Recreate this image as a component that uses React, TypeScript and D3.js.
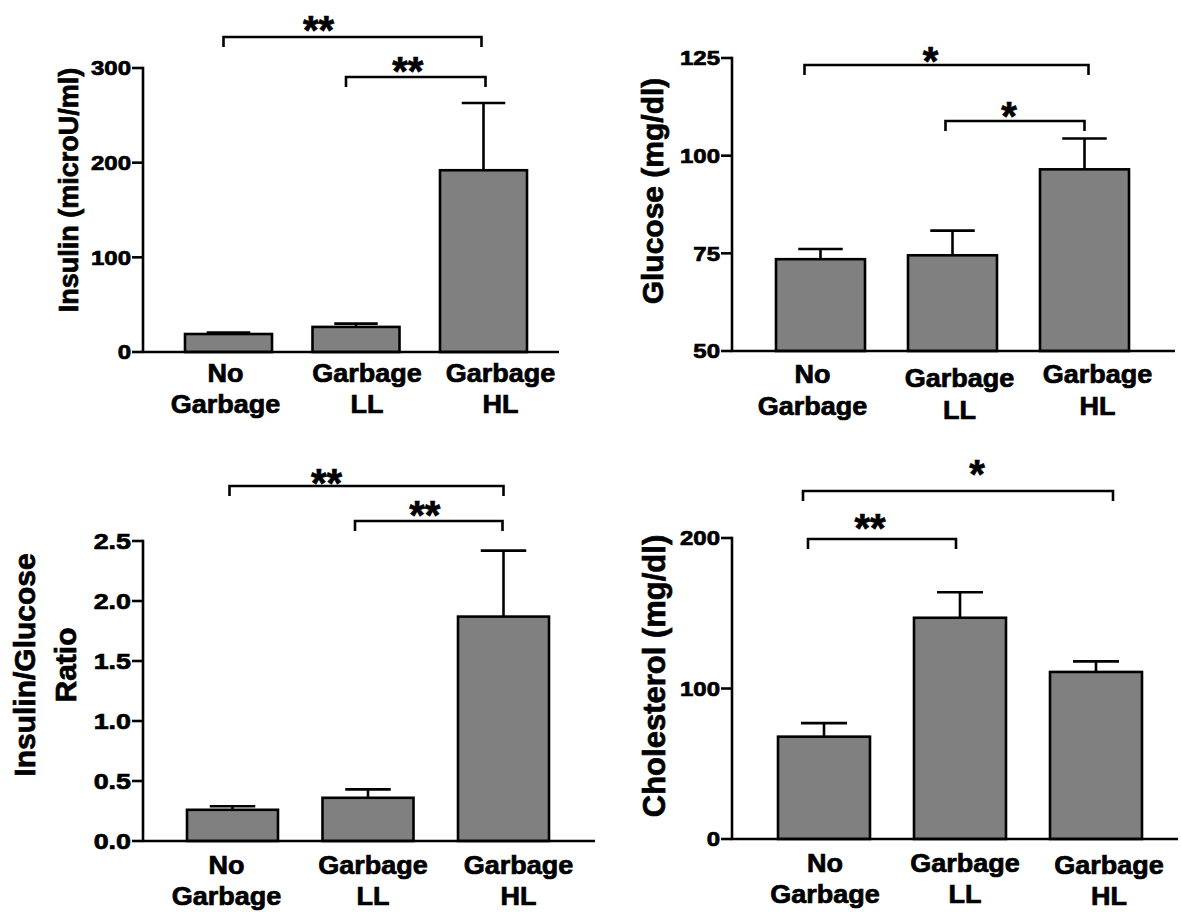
import React from "react";
import * as d3 from "d3";

// ---------- data ----------
const categoryLines: string[][] = [
  ["No", "Garbage"],
  ["Garbage", "LL"],
  ["Garbage", "HL"],
];

const insulinMean = [19, 26.5, 192];
const insulinSem = [1.5, 3.5, 71];
const insulinTicks = [0, 100, 200, 300];
const insulinSig = [
  { from: 0, to: 2, label: "**" },
  { from: 1, to: 2, label: "**" },
];

const glucoseMean = [73.5, 74.5, 96.5];
const glucoseSem = [2.6, 6.3, 7.9];
const glucoseTicks = [50, 75, 100, 125];
const glucoseSig = [
  { from: 0, to: 2, label: "*" },
  { from: 1, to: 2, label: "*" },
];

const ratioMean = [0.26, 0.36, 1.87];
const ratioSem = [0.03, 0.07, 0.55];
const ratioTicks = [0, 0.5, 1.0, 1.5, 2.0, 2.5];
const ratioSig = [
  { from: 0, to: 2, label: "**" },
  { from: 1, to: 2, label: "**" },
];

const cholMean = [68, 147, 111];
const cholSem = [9, 17, 7];
const cholTicks = [0, 100, 200];
const cholSig = [
  { from: 0, to: 2, label: "*" },
  { from: 0, to: 1, label: "**" },
];

// ---------- layout (pixels) ----------
const FONT = "'Liberation Sans', Arial, Helvetica, sans-serif";

type Panel = {
  mean: number[];
  sem: number[];
  ticks: number[];
  fmt: (v: number) => string;
  domain: [number, number];
  sig: { from: number; to: number; label: string }[];
  title: string[];
  axisX: number;
  xEnd: number;
  y0: number;
  yTop: number;
  barL: number;
  barR: number;
  barW: number;
  tickSize: number;
  tickSx: number;
  titleSize: number;
  titleX: number[];
  titleCy: number;
  labelDx: number[];
  labelDy: number[];
  labelBase: number[];
  brackets: { y: number; d1: number; d2: number; sdx: number; sy: number }[];
};

const panels: Panel[] = [
  {
    mean: insulinMean, sem: insulinSem, ticks: insulinTicks, fmt: d3.format("d"),
    domain: [0, 300], sig: insulinSig, title: ["Insulin (microU/ml)"],
    axisX: 143, xEnd: 559, y0: 352, yTop: 68, barL: 185, barR: 527, barW: 87,
    tickSize: 20, tickSx: 1.2, titleSize: 27, titleX: [78], titleCy: 190,
    labelDx: [-3, 11, 17], labelDy: [0, 0, 0], labelBase: [30, 61],
    brackets: [
      { y: 37, d1: -5, d2: -2, sdx: -34, sy: 22 },
      { y: 77, d1: -10, d2: 2, sdx: -8, sy: 63 },
    ],
  },
  {
    mean: glucoseMean, sem: glucoseSem, ticks: glucoseTicks, fmt: d3.format("d"),
    domain: [50, 125], sig: glucoseSig, title: ["Glucose (mg/dl)"],
    axisX: 732, xEnd: 1175, y0: 351, yTop: 58, barL: 776, barR: 1129, barW: 89,
    tickSize: 20, tickSx: 1.2, titleSize: 30, titleX: [663], titleCy: 191,
    labelDx: [-8, 7, 13], labelDy: [0, 4, 0], labelBase: [32, 64],
    brackets: [
      { y: 65, d1: -16, d2: 4, sdx: -16, sy: 53 },
      { y: 121, d1: -7, d2: 0, sdx: -6, sy: 108 },
    ],
  },
  {
    mean: ratioMean, sem: ratioSem, ticks: ratioTicks, fmt: d3.format(".1f"),
    domain: [0, 2.5], sig: ratioSig, title: ["Insulin/Glucose", "Ratio"],
    axisX: 143, xEnd: 595, y0: 841, yTop: 541, barL: 187, barR: 549, barW: 91,
    tickSize: 22, tickSx: 1.22, titleSize: 30, titleX: [35, 76], titleCy: 665,
    labelDx: [-6, 5, 15], labelDy: [0, 0, 0], labelBase: [33, 64],
    brackets: [
      { y: 486, d1: -3, d2: 0, sdx: -40, sy: 475 },
      { y: 521, d1: -13, d2: -1, sdx: -4, sy: 507 },
    ],
  },
  {
    mean: cholMean, sem: cholSem, ticks: cholTicks, fmt: d3.format("d"),
    domain: [0, 200], sig: cholSig, title: ["Cholesterol (mg/dl)"],
    axisX: 732, xEnd: 1178, y0: 839, yTop: 538, barL: 778, barR: 1142, barW: 92,
    tickSize: 20, tickSx: 1.2, titleSize: 31, titleX: [665], titleCy: 676,
    labelDx: [1, 5, 13], labelDy: [0, 0, 2], labelBase: [33, 64],
    brackets: [
      { y: 491, d1: -21, d2: 17, sdx: 19, sy: 466 },
      { y: 539, d1: -16, d2: -4, sdx: -12, sy: 520 },
    ],
  },
];

const SW = 2.6;
const BAR_FILL = "#808080";
const TXT = { fill: "#000", stroke: "#000", strokeWidth: 0.7 };

function PanelView({ p }: { p: Panel }) {
  const idx = p.mean.map((_, i) => i);
  const step = (p.barR - p.barL - p.barW) / (idx.length - 1);
  const pi = 1 - p.barW / step;
  const x = d3
    .scaleBand<number>()
    .domain(idx)
    .range([p.barL - (pi * step) / 2, p.barR + (pi * step) / 2])
    .paddingInner(pi)
    .paddingOuter(pi / 2);
  const y = d3.scaleLinear().domain(p.domain).range([p.y0, p.yTop]);
  const bw = x.bandwidth();
  const cx = (i: number) => (x(i) as number) + bw / 2;
  const capW = bw * 0.5;

  return (
    <g>
      {/* bars */}
      {idx.map((i) => (
        <g key={"b" + i}>
          <line
            x1={cx(i)} x2={cx(i)} y1={y(p.mean[i])} y2={y(p.mean[i] + p.sem[i])}
            stroke="#000" strokeWidth={SW}
          />
          <line
            x1={cx(i) - capW / 2} x2={cx(i) + capW / 2}
            y1={y(p.mean[i] + p.sem[i])} y2={y(p.mean[i] + p.sem[i])}
            stroke="#000" strokeWidth={SW}
          />
          <rect
            x={x(i)} y={y(p.mean[i])} width={bw} height={p.y0 - y(p.mean[i])}
            fill={BAR_FILL} stroke="#000" strokeWidth={SW}
          />
        </g>
      ))}
      {/* y axis */}
      <line x1={p.axisX} x2={p.axisX} y1={y(p.domain[1]) - SW / 2} y2={p.y0} stroke="#000" strokeWidth={SW} />
      {p.ticks.map((t) => (
        <g key={"t" + t}>
          <line x1={p.axisX - 11} x2={p.axisX} y1={y(t)} y2={y(t)} stroke="#000" strokeWidth={SW} />
          <text
            transform={`translate(${p.axisX - 12},${y(t) + p.tickSize * 0.36}) scale(${p.tickSx},1)`}
            textAnchor="end" fontFamily={FONT} fontWeight="bold" fontSize={p.tickSize}
            {...TXT}
          >
            {p.fmt(t)}
          </text>
        </g>
      ))}
      {/* x axis */}
      <line x1={p.axisX - SW / 2} x2={p.xEnd} y1={p.y0} y2={p.y0} stroke="#000" strokeWidth={SW} />
      {/* category labels */}
      {idx.map((i) => (
        <g key={"l" + i}>
          {categoryLines[i].map((ln, k) => (
            <text
              key={k}
              transform={`translate(${cx(i) + p.labelDx[i]},${p.y0 + p.labelBase[k] + p.labelDy[i]}) scale(1.08,1)`}
              textAnchor="middle" fontFamily={FONT} fontWeight="bold" fontSize={25}
              {...TXT}
            >
              {ln}
            </text>
          ))}
        </g>
      ))}
      {/* y title */}
      {p.title.map((t, k) => (
        <text
          key={"yt" + k}
          transform={`translate(${p.titleX[k]},${p.titleCy}) rotate(-90)`}
          textAnchor="middle" fontFamily={FONT} fontWeight="bold" fontSize={p.titleSize}
          {...TXT}
        >
          {t}
        </text>
      ))}
      {/* significance brackets */}
      {p.sig.map((s, k) => {
        const b = p.brackets[k];
        const x1 = cx(s.from) + b.d1;
        const x2 = cx(s.to) + b.d2;
        return (
          <g key={"s" + k}>
            <path
              d={`M${x1},${b.y + 10}V${b.y}H${x2}V${b.y + 10}`}
              fill="none" stroke="#000" strokeWidth={SW}
            />
            <text
              x={(x1 + x2) / 2 + b.sdx} y={b.sy + 40 * 0.555}
              textAnchor="middle" fontFamily={FONT} fontWeight="bold" fontSize={40}
              {...TXT}
            >
              {s.label}
            </text>
          </g>
        );
      })}
    </g>
  );
}

export default function App() {
  return (
    <svg
      width={1181} height={912} viewBox="0 0 1181 912"
      style={{ position: "absolute", left: 0, top: 0, background: "#fff" }}
    >
      <rect width={1181} height={912} fill="#fff" />
      {panels.map((p, i) => (
        <PanelView key={i} p={p} />
      ))}
    </svg>
  );
}
